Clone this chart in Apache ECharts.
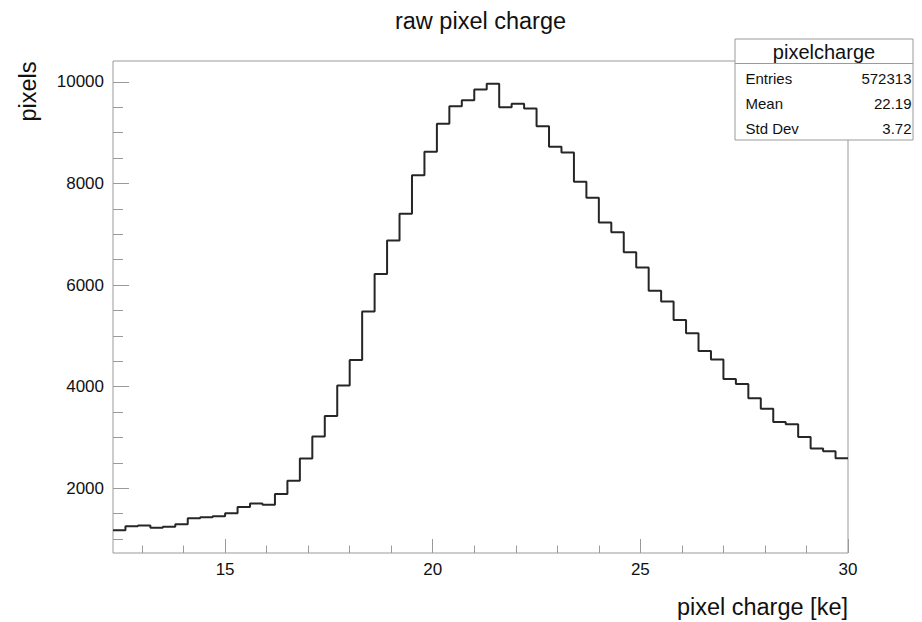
<!DOCTYPE html>
<html>
<head>
<meta charset="utf-8">
<title>raw pixel charge</title>
<script src="https://cdn.jsdelivr.net/npm/echarts@6/dist/echarts.min.js"></script>
<style>
  html, body { margin: 0; padding: 0; background: #fff; }
  #chart { width: 922px; height: 622px; }
</style>
</head>
<body>
<div id="chart"></div>
<script>
// Histogram of raw pixel charge: 59 bins of 0.3 ke from 12.3 to 30 ke
const binLow = 12.3;
const binWidth = 0.3;
const binCounts = [
  1171, 1250, 1264, 1224, 1244, 1289, 1407, 1427, 1447, 1506,
  1632, 1697, 1677, 1888, 2148, 2583, 3016, 3424, 4020, 4526,
  5477, 6215, 6875, 7401, 8161, 8622, 9173, 9520, 9638, 9848,
  9961, 9500, 9567, 9474, 9126, 8720, 8610, 8031, 7716, 7230,
  7039, 6645, 6344, 5885, 5674, 5314, 5050, 4703, 4532, 4152,
  4054, 3770, 3567, 3305, 3258, 3010, 2780, 2727, 2589
];

// Axis ranges and tick positions
const xRange = [12.3, 30];
const yRange = [725, 10410];
const xMajorTicks = [15, 20, 25, 30];
const xMinorTicks = [13, 14, 16, 17, 18, 19, 21, 22, 23, 24, 26, 27, 28, 29];
const yMajorTicks = [2000, 4000, 6000, 8000, 10000];
const yMinorTicks = [1000, 1500, 2500, 3000, 3500, 4500, 5000, 5500, 6500, 7000, 7500, 8500, 9000, 9500];

// Statistics box
const statsName = 'pixelcharge';
const statsLabels = ['Entries', 'Mean', 'Std Dev'];
const statsValues = ['572313', '22.19', '3.72'];

// Text labels
const titleText = 'raw pixel charge';
const xTitle = 'pixel charge [ke]';
const yTitle = 'pixels';

const FONT = '"Liberation Sans", Arial, Helvetica, sans-serif';
const FRAME = '#9a9a9a';
const INK = '#111111';

// Step outline points: left edge of each bin, then the closing right edge
const stepPoints = binCounts.map((c, i) => [+(binLow + i * binWidth).toFixed(2), c]);
stepPoints.push([+(binLow + binCounts.length * binWidth).toFixed(2), binCounts[binCounts.length - 1]]);

const chart = echarts.init(document.getElementById('chart'), null, { renderer: 'svg' });

const plainNumber = v => String(v);

function xAxisDef(ticks, len, showLabels) {
  return {
    type: 'value', min: xRange[0], max: xRange[1], position: 'bottom',
    axisLine: { show: false },
    splitLine: { show: false },
    axisTick: { show: true, inside: true, length: len, customValues: ticks,
                lineStyle: { color: FRAME, width: 1 } },
    axisLabel: { show: showLabels, customValues: ticks, margin: 8, formatter: plainNumber,
                 fontFamily: FONT, fontSize: 17, color: INK }
  };
}
function yAxisDef(ticks, len, showLabels) {
  return {
    type: 'value', min: yRange[0], max: yRange[1], position: 'left', offset: 0,
    axisLine: { show: false },
    splitLine: { show: false },
    axisTick: { show: true, inside: true, length: len, customValues: ticks,
                lineStyle: { color: FRAME, width: 1 } },
    axisLabel: { show: showLabels, customValues: ticks, margin: 9, formatter: plainNumber,
                 fontFamily: FONT, fontSize: 17, color: INK }
  };
}

const statsX = 735, statsY = 39, statsW = 178, statsH = 101, statsHead = 24.5;
const statsGraphics = [
  { type: 'rect', z: 100, shape: { x: statsX, y: statsY, width: statsW, height: statsH },
    style: { fill: '#fff', stroke: FRAME, lineWidth: 1 } },
  { type: 'line', z: 101, shape: { x1: statsX, y1: statsY + statsHead, x2: statsX + statsW, y2: statsY + statsHead },
    style: { stroke: FRAME, lineWidth: 1 } },
  { type: 'text', z: 102, x: statsX + statsW / 2, y: statsY + statsHead / 2 + 0.5,
    style: { text: statsName, font: '20px ' + FONT, fill: INK, textAlign: 'center', textVerticalAlign: 'middle' } }
];
statsLabels.forEach((lab, i) => {
  const yy = 78.3 + i * 25.3;
  statsGraphics.push({ type: 'text', z: 102, x: statsX + 10.5, y: yy,
    style: { text: lab, font: '15px ' + FONT, fill: INK, textAlign: 'left', textVerticalAlign: 'middle' } });
  statsGraphics.push({ type: 'text', z: 102, x: statsX + statsW - 1.5, y: yy,
    style: { text: statsValues[i], font: '15px ' + FONT, fill: INK, textAlign: 'right', textVerticalAlign: 'middle' } });
});

chart.setOption({
  animation: false,
  backgroundColor: '#fff',
  grid: { left: 113, top: 61, width: 735, height: 492, show: true,
          borderColor: FRAME, borderWidth: 1, backgroundColor: 'transparent' },
  xAxis: [xAxisDef(xMajorTicks, 14, true), xAxisDef(xMinorTicks, 7.5, false)],
  yAxis: [yAxisDef(yMajorTicks, 16, true), yAxisDef(yMinorTicks, 10, false)],
  series: [{
    type: 'line', step: 'end', data: stepPoints, showSymbol: false, symbol: 'none',
    clip: true, z: 5,
    lineStyle: { color: '#262626', width: 2 }
  }],
  graphic: [
    { type: 'text', x: 480.5, y: 21,
      style: { text: titleText, font: '23.5px ' + FONT, fill: INK, textAlign: 'center', textVerticalAlign: 'middle' } },
    { type: 'text', x: 848, y: 607,
      style: { text: xTitle, font: '23.5px ' + FONT, fill: INK, textAlign: 'right', textVerticalAlign: 'middle' } },
    { type: 'text', x: 28, y: 61.5, rotation: Math.PI / 2,
      style: { text: yTitle, font: '23.5px ' + FONT, fill: INK, textAlign: 'right', textVerticalAlign: 'middle' } }
  ].concat(statsGraphics)
});
</script>
</body>
</html>
